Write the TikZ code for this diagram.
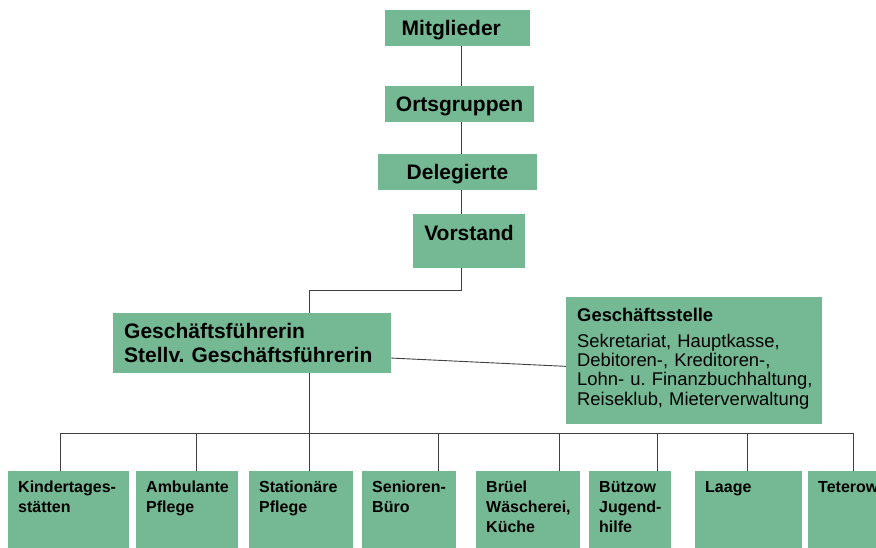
\documentclass[tikz,border=0pt]{standalone}
\usepackage{fontspec}
\setmainfont{Liberation Sans}
\usepackage{tikz}
\definecolor{orggreen}{RGB}{116,185,147}
\hyphenpenalty=10000
\exhyphenpenalty=10000
\frenchspacing
\tikzset{
  topbox/.style  = {fill=orggreen, inner sep=0pt, minimum height=36pt,
                    text height=15pt, text depth=0pt,
                    font=\fontsize{21}{24}\selectfont\bfseries},
  headbox/.style = {fill=orggreen, anchor=north west, align=left, inner xsep=11pt},
  unitbox/.style = {fill=orggreen, anchor=north west, align=left, text width=#1,
                    inner xsep=10pt, inner ysep=10pt, text depth=70pt,
                    font=\fontsize{16}{20}\selectfont\bfseries},
  orgline/.style = {draw=black!75, line width=0.9pt}
}

\begin{document}
\begin{tikzpicture}[x=1pt,y=-1pt]
  \useasboundingbox (0,0) rectangle (876,548);
  \clip (0,0) rectangle (876,548);
  % upper chain
  \node[topbox, minimum width=145pt, align=left, text width=111.6pt,
        inner xsep=16.7pt] (mit) at (457.5,28) {Mitglieder};
  \node[topbox, minimum width=149pt] (orts) at (459.5,104) {Ortsgruppen};
  \node[topbox, minimum width=159pt] (del)  at (457.5,172) {Delegierte};
  \node[topbox, minimum width=112pt, minimum height=54pt, text depth=15pt]
        (vst) at (469,241) {Vorstand};
  % management
  \node[headbox, text width=256pt, inner ysep=10pt,
        font=\fontsize{21}{24.3}\selectfont\bfseries] (gf) at (113,313)
        {Geschäftsführerin\\Stellv.~Geschäftsführerin};
  \node[headbox, text width=233.5pt, inner ysep=10.5pt, text depth=92pt,
        font=\fontsize{18.4}{19.4}\selectfont] (gs) at (566,297)
        {\textbf{Geschäftsstelle}\\[6.6pt]
         Sekretariat,~Hauptkasse,\\
         Debitoren-,~Kreditoren-,\\
         Lohn-~u.~Finanzbuchhaltung,\\
         Reiseklub,~Mieterverwaltung};
  % units
  \node[unitbox=101pt] (kita)  at (8,471)   {Kindertages-\\stätten};
  \node[unitbox=82pt]  (amb)   at (136,471) {Ambulante\\Pflege};
  \node[unitbox=84pt]  (stat)  at (249,471) {Stationäre\\Pflege};
  \node[unitbox=74pt]  (sen)   at (362,471) {Senioren-\\Büro};
  \node[unitbox=84pt]  (bru)   at (476,471) {Brüel\\Wäscherei,\\Küche};
  \node[unitbox=62pt]  (buet)  at (589,471) {Bützow\\Jugend-\\hilfe};
  \node[unitbox=87pt]  (laage) at (695,471) {Laage};
  \node[unitbox=87pt]  (tet)   at (808,471) {Teterow};

  % connectors
  \coordinate (spine) at (461,0);
  \coordinate (gfx) at (309.5,0);
  \draw[orgline] (mit.south -| spine) -- (orts.north -| spine);
  \draw[orgline] (orts.south -| spine) -- (del.north -| spine);
  \draw[orgline] (del.south -| spine) -- (vst.north -| spine);
  \draw[orgline] (vst.south -| spine) -- ++(0,22) -| (gf.north -| gfx);
  \draw[orgline] (gf.south -| gfx) -- (stat.north -| gfx);
  \draw[orgline] ([yshift=-15pt]gf.east) -- ([yshift=-6pt]gs.west);
  \foreach \n/\x in {kita/60, amb/196, sen/438, bru/559, buet/657, laage/747, tet/853}{
    \coordinate (d-\n) at (\x,433);
    \draw[orgline] (d-\n) -- (\n.north -| d-\n);
  }
  \draw[orgline] (d-kita) -- (d-tet);
\end{tikzpicture}
\end{document}
